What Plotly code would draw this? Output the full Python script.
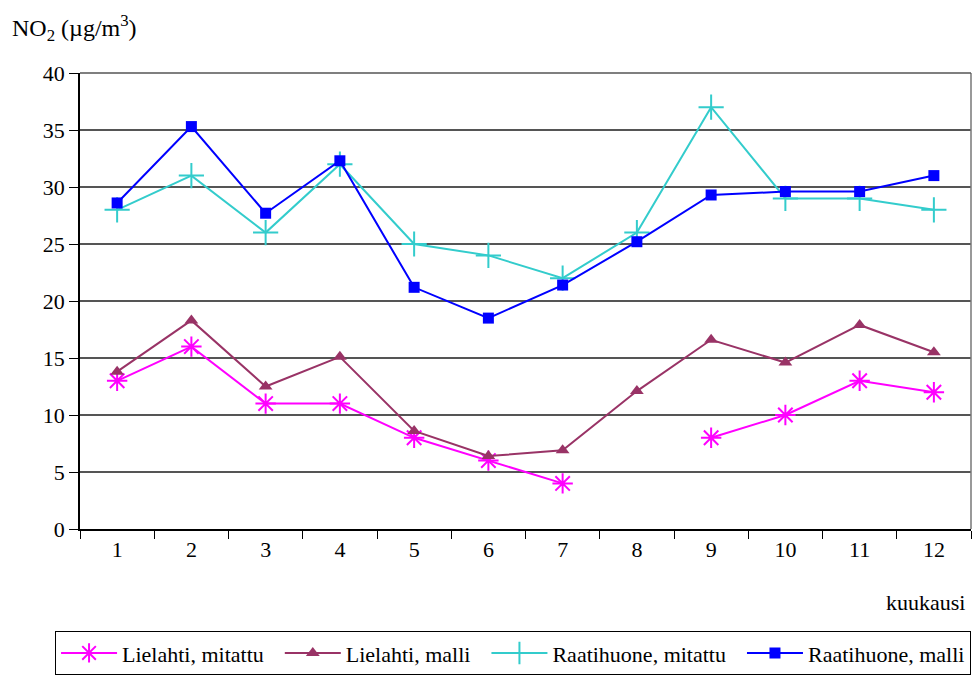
import plotly.graph_objects as go

# Monthly NO2 concentrations (µg/m3), measured vs. modelled
months = ["1", "2", "3", "4", "5", "6", "7", "8", "9", "10", "11", "12"]
lielahti_mitattu = [13, 16, 11, 11, 8, 6, 4, None, 8, 10, 13, 12]
lielahti_malli = [13.8, 18.3, 12.5, 15.1, 8.6, 6.4, 6.9, 12.1, 16.6, 14.6, 17.9, 15.5]
raatihuone_mitattu = [28, 31, 26, 32, 25, 24, 22, 26, 37, 29, 29, 28]
raatihuone_malli = [28.6, 35.3, 27.7, 32.3, 21.2, 18.5, 21.4, 25.2, 29.3, 29.6, 29.6, 31.0]

FONT = "Times New Roman, Liberation Serif, serif"
PAD = "\u00a0\u00a0"  # extra room after each legend label

fig = go.Figure()

fig.add_trace(go.Scatter(
    x=months, y=lielahti_mitattu, name="Lielahti, mitattu" + PAD,
    mode="lines+markers", connectgaps=False,
    line=dict(color="#FF00FF", width=2),
    marker=dict(symbol="asterisk-open", size=17, line=dict(color="#FF00FF", width=2)),
))
fig.add_trace(go.Scatter(
    x=months, y=lielahti_malli, name="Lielahti, malli" + PAD,
    mode="lines+markers",
    line=dict(color="#993366", width=2),
    marker=dict(symbol="triangle-up", size=12, color="#993366"),
))
fig.add_trace(go.Scatter(
    x=months, y=raatihuone_mitattu, name="Raatihuone, mitattu" + PAD,
    mode="lines+markers",
    line=dict(color="#33CCCC", width=2),
    marker=dict(symbol="cross-thin-open", size=18, line=dict(color="#33CCCC", width=2)),
))
fig.add_trace(go.Scatter(
    x=months, y=raatihuone_malli, name="Raatihuone, malli",
    mode="lines+markers",
    line=dict(color="#0000FF", width=2),
    marker=dict(symbol="square", size=11, color="#0000FF"),
))

fig.update_layout(
    width=973, height=677,
    margin=dict(l=80, r=2, t=73, b=148),
    paper_bgcolor="white", plot_bgcolor="white",
    font=dict(family=FONT, size=22, color="black"),
    showlegend=True,
    legend=dict(
        orientation="h", x=-0.028, y=-0.224, xanchor="left", yanchor="top",
        bordercolor="black", borderwidth=1, bgcolor="white",
        font=dict(family=FONT, size=22), itemwidth=56,
        tracegroupgap=0,
    ),
    xaxis=dict(
        type="category", range=[-0.5, 11.5], tickson="boundaries",
        ticks="outside", ticklen=8,
        tickcolor="black", showline=True, linecolor="black", linewidth=1.5,
        showgrid=False, tickfont=dict(family=FONT, size=22),
    ),
    yaxis=dict(
        range=[0, 40], dtick=5, ticks="outside", ticklen=9, tickcolor="black",
        showline=True, linecolor="black", linewidth=1.5,
        showgrid=True, gridcolor="#555555", gridwidth=1.5,
        zeroline=False, tickfont=dict(family=FONT, size=22),
    ),
    shapes=[
        dict(type="line", xref="paper", yref="paper", x0=1, x1=1, y0=0, y1=1,
             line=dict(color="#777777", width=1.5)),
        dict(type="line", xref="paper", yref="paper", x0=0, x1=1, y0=1, y1=1,
             line=dict(color="#555555", width=1.5)),
    ],
    annotations=[
        dict(text="NO<sub>2</sub> (µg/m<sup>3</sup>)", xref="paper", yref="paper",
             x=-0.079, y=1.057, xanchor="left", yanchor="bottom", showarrow=False,
             font=dict(family=FONT, size=24)),
        dict(text="kuukausi", xref="paper", yref="paper",
             x=0.996, y=-0.13, xanchor="right", yanchor="top", showarrow=False,
             font=dict(family=FONT, size=22)),
    ],
)

fig.write_html("out.html")
